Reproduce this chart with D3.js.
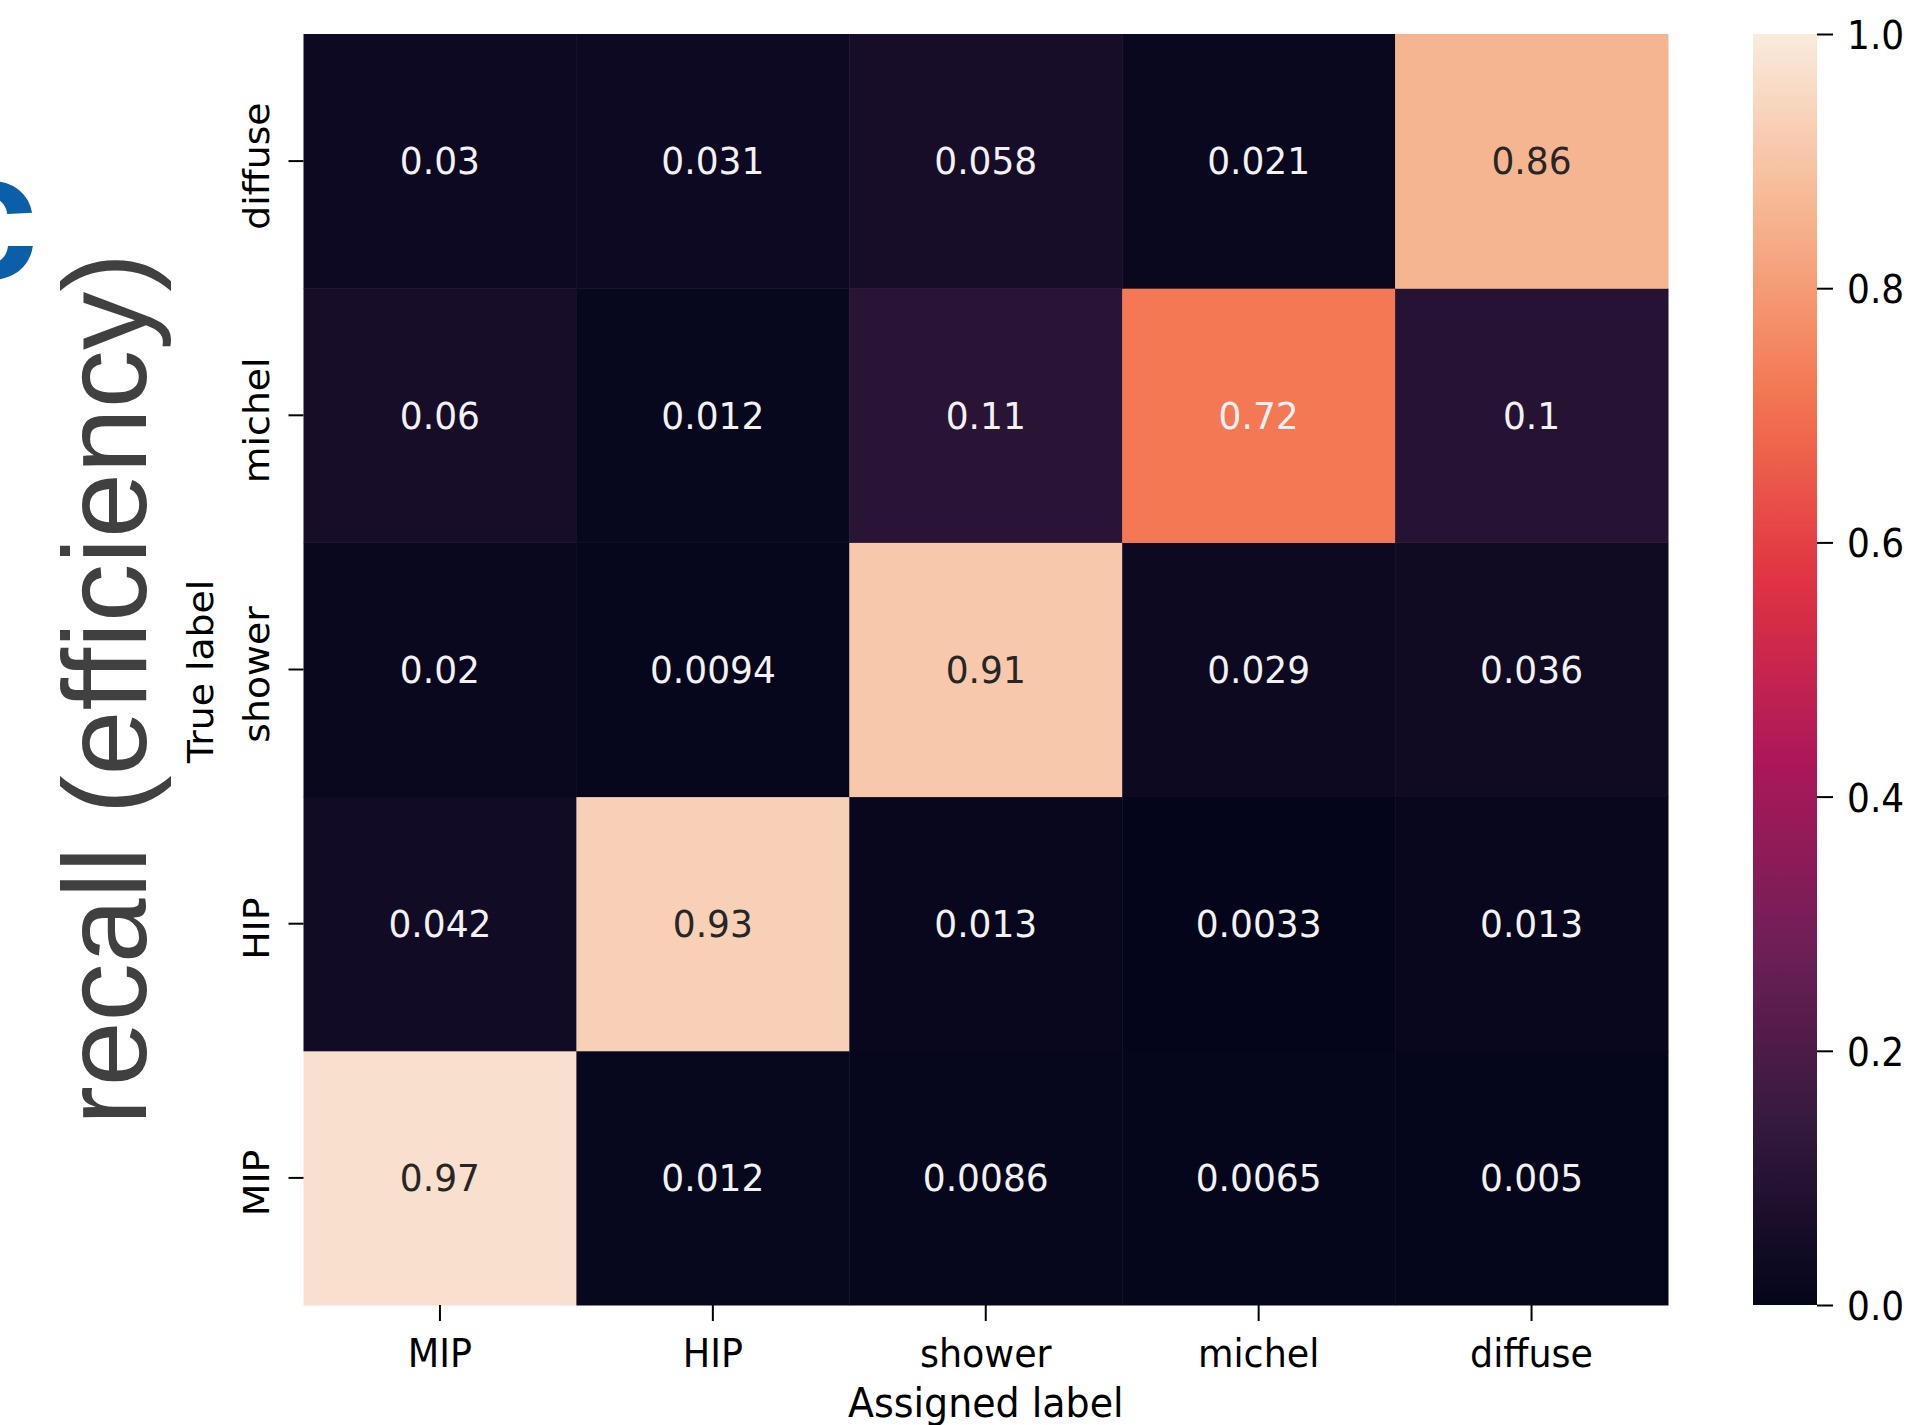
<!DOCTYPE html>
<html>
<head>
<meta charset="utf-8">
<script src="https://cdn.jsdelivr.net/npm/d3@7"></script>
<style>
  html, body { margin: 0; padding: 0; background: #ffffff; }
  svg { display: block; }
</style>
</head>
<body>
<svg id="chart" width="1927" height="1425"></svg>
<script>
// Confusion matrix: rows = true label, columns = assigned label
const assignedLabels = ["MIP", "HIP", "shower", "michel", "diffuse"];
const trueLabels = ["MIP", "HIP", "shower", "michel", "diffuse"];

const rowMIP     = [0.97, 0.012, 0.0086, 0.0065, 0.005];
const rowHIP     = [0.042, 0.93, 0.013, 0.0033, 0.013];
const rowShower  = [0.02, 0.0094, 0.91, 0.029, 0.036];
const rowMichel  = [0.06, 0.012, 0.11, 0.72, 0.1];
const rowDiffuse = [0.03, 0.031, 0.058, 0.021, 0.86];

const colorbarTicks = [0.0, 0.2, 0.4, 0.6, 0.8, 1.0];

// "rocket" colormap control stops
const rocketStops = ["#03051a", "#35193e", "#701f57", "#ad1759", "#e13342", "#f37651", "#f6b48f", "#faebdd"];

const matrix = [rowMIP, rowHIP, rowShower, rowMichel, rowDiffuse];
const cells = [];
trueLabels.forEach((t, i) => {
  assignedLabels.forEach((a, j) => {
    cells.push({ trueLabel: t, assigned: a, value: matrix[i][j] });
  });
});

const svg = d3.select("#chart");
const font = "'DejaVu Sans', sans-serif";
// figure text is drawn slightly taller than wide
const SY = 1.08;

const plot = { left: 303.5, right: 1668, top: 34, bottom: 1305 };

const x = d3.scaleBand().domain(assignedLabels).range([plot.left, plot.right]);
const y = d3.scaleBand().domain(trueLabels).range([plot.bottom, plot.top]);

const stopPos = rocketStops.map((_, i) => {
  if (i === 0) return 0;
  if (i === rocketStops.length - 1) return 1;
  return i / 7;
});
const color = d3.scaleLinear().domain(stopPos).range(rocketStops)
  .interpolate(d3.interpolateRgb).clamp(true);

// slide title text behind the chart
svg.append("text")
  .attr("transform", "translate(146,689) rotate(-90)")
  .attr("text-anchor", "middle")
  .attr("font-family", "'Liberation Sans', Arial, sans-serif")
  .attr("font-size", 119)
  .attr("fill", "#404040")
  .attr("textLength", 872)
  .attr("lengthAdjust", "spacingAndGlyphs")
  .text("recall (efficiency)");

svg.append("text")
  .attr("x", -62)
  .attr("y", 278)
  .attr("font-family", "'Liberation Sans', Arial, sans-serif")
  .attr("font-weight", "bold")
  .attr("font-size", 180)
  .attr("fill", "#0a5fa8")
  .text("c");

// heatmap cells
svg.append("g").selectAll("rect")
  .data(cells)
  .join("rect")
  .attr("x", d => x(d.assigned))
  .attr("y", d => y(d.trueLabel))
  .attr("width", x.bandwidth() + 0.5)
  .attr("height", y.bandwidth() + 0.5)
  .attr("fill", d => color(d.value));

// luminance-based annotation colour
function textColor(v) {
  const c = d3.rgb(color(v));
  const lin = ch => { ch /= 255; return ch <= 0.03928 ? ch / 12.92 : Math.pow((ch + 0.055) / 1.055, 2.4); };
  const lum = 0.2126 * lin(c.r) + 0.7152 * lin(c.g) + 0.0722 * lin(c.b);
  return lum > 0.408 ? "#262626" : "#f2f2f2";
}

svg.append("g").selectAll("text")
  .data(cells)
  .join("text")
  .attr("transform", d => `translate(${x(d.assigned) + x.bandwidth() / 2},${y(d.trueLabel) + y.bandwidth() / 2}) scale(1,1.05)`)
  .attr("dy", "0.35em")
  .attr("text-anchor", "middle")
  .attr("font-family", font)
  .attr("font-size", 36)
  .attr("fill", d => textColor(d.value))
  .text(d => d3.format(".2~g")(d.value));

// x axis
const xAxis = svg.append("g")
  .attr("transform", `translate(0,${plot.bottom})`)
  .call(d3.axisBottom(x).tickSize(16));
xAxis.select(".domain").remove();
xAxis.selectAll(".tick line").attr("stroke", "#000").attr("stroke-width", 2);
xAxis.selectAll(".tick text")
  .attr("y", null).attr("dy", null)
  .attr("transform", `translate(0,62) scale(1,${SY})`)
  .attr("font-family", font).attr("font-size", 36.5).attr("fill", "#000");

// y axis with rotated tick labels
const yAxis = svg.append("g")
  .attr("transform", `translate(${plot.left},0)`)
  .call(d3.axisLeft(y).tickSize(15));
yAxis.select(".domain").remove();
yAxis.selectAll(".tick line").attr("stroke", "#000").attr("stroke-width", 2);
yAxis.selectAll(".tick text")
  .attr("x", null).attr("dy", null)
  .attr("transform", `translate(-35,5) scale(1,${SY}) rotate(-90)`)
  .attr("text-anchor", "middle")
  .attr("font-family", font).attr("font-size", 35).attr("fill", "#000");

// axis titles
svg.append("text")
  .attr("transform", `translate(${(plot.left + plot.right) / 2},1417) scale(1,${SY})`)
  .attr("text-anchor", "middle")
  .attr("font-family", font).attr("font-size", 38).attr("fill", "#000")
  .text("Assigned label");

svg.append("text")
  .attr("transform", `translate(213,${(plot.top + plot.bottom) / 2 + 2}) scale(1,${SY}) rotate(-90)`)
  .attr("text-anchor", "middle")
  .attr("font-family", font).attr("font-size", 35).attr("fill", "#000")
  .text("True label");

// colorbar
const cb = { x: 1753, width: 64 };
const cbScale = d3.scaleLinear().domain([0, 1]).range([plot.bottom, plot.top]);
const defs = svg.append("defs");
const grad = defs.append("linearGradient")
  .attr("id", "cbgrad").attr("x1", 0).attr("y1", 1).attr("x2", 0).attr("y2", 0);
d3.range(0, 1.0001, 0.02).forEach(t => {
  grad.append("stop").attr("offset", t).attr("stop-color", color(t));
});
svg.append("rect")
  .attr("x", cb.x).attr("y", plot.top)
  .attr("width", cb.width).attr("height", plot.bottom - plot.top)
  .attr("fill", "url(#cbgrad)");

const cbAxis = svg.append("g")
  .attr("transform", `translate(${cb.x + cb.width},0)`)
  .call(d3.axisRight(cbScale).tickValues(colorbarTicks).tickFormat(d3.format(".1f")).tickSize(16));
cbAxis.select(".domain").remove();
cbAxis.selectAll(".tick line").attr("stroke", "#000").attr("stroke-width", 2);
cbAxis.selectAll(".tick text")
  .attr("x", null)
  .attr("transform", `translate(30,2) scale(1,${SY})`)
  .attr("font-family", font).attr("font-size", 36).attr("fill", "#000");
</script>
</body>
</html>
